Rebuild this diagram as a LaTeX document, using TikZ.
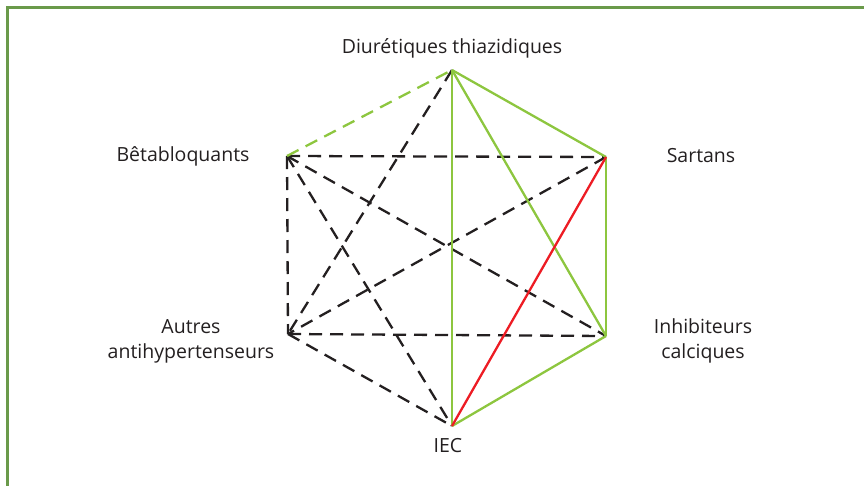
\documentclass[tikz,border=0pt]{standalone}
\usepackage{fontspec}
\setmainfont{Open Sans}
\definecolor{framegreen}{HTML}{6A9A4A}
\definecolor{lgreen}{HTML}{8DC63F}
\definecolor{lred}{HTML}{ED1C24}
\definecolor{dark}{HTML}{231F20}
\begin{document}
\begin{tikzpicture}[x=1pt,y=-1pt,
  lbl/.style={font=\fontsize{19.5}{25}\selectfont, text=dark, align=center, inner sep=0pt},
  blackdash/.style={draw=dark, line width=2.3pt, dash pattern=on 13pt off 8pt},
  greendash/.style={draw=lgreen, line width=2.3pt, dash pattern=on 13pt off 8pt},
  greenline/.style={draw=lgreen, line width=2.3pt},
  redline/.style={draw=lred, line width=2.3pt}]
\useasboundingbox (0,0) rectangle (864,485);
\draw[framegreen, line width=3pt] (7.5,490) -- (7.5,7.5) -- (870,7.5);
% vertices
\coordinate (D) at (452,70);
\coordinate (B) at (287,156);
\coordinate (S) at (606,157);
\coordinate (I) at (606,336);
\coordinate (A) at (288,334);
\coordinate (E) at (452,426);
% labels
\node[lbl] (tD) at (452,48) {Diurétiques thiazidiques};
\node[lbl] (tB) at (183,156) {Bêtabloquants};
\node[lbl] (tS) at (701,156) {Sartans};
\node[lbl] (tI) at (703,341) {Inhibiteurs\\calciques};
\node[lbl] (tA) at (191,341) {Autres\\antihypertenseurs};
\node[lbl] (tE) at (448,446) {IEC};
% dashed black
\draw[blackdash] (B) -- (S);
\draw[blackdash] (B) -- (A);
\draw[blackdash] (B) -- (I);
\draw[blackdash] (B) -- (E);
\draw[blackdash] (D) -- (A);
\draw[blackdash] (S) -- (A);
\draw[blackdash] (A) -- (I);
\draw[blackdash] (A) -- (E);
% green dashed
\draw[greendash] (B) -- (D);
% green solid
\draw[greenline] (D) -- (E);
\draw[greenline] (D) -- (S);
\draw[greenline] (D) -- (I);
\draw[greenline] (S) -- (I);
\draw[greenline] (E) -- (I);
% red
\draw[redline] (S) -- (E);
\end{tikzpicture}
\end{document}
